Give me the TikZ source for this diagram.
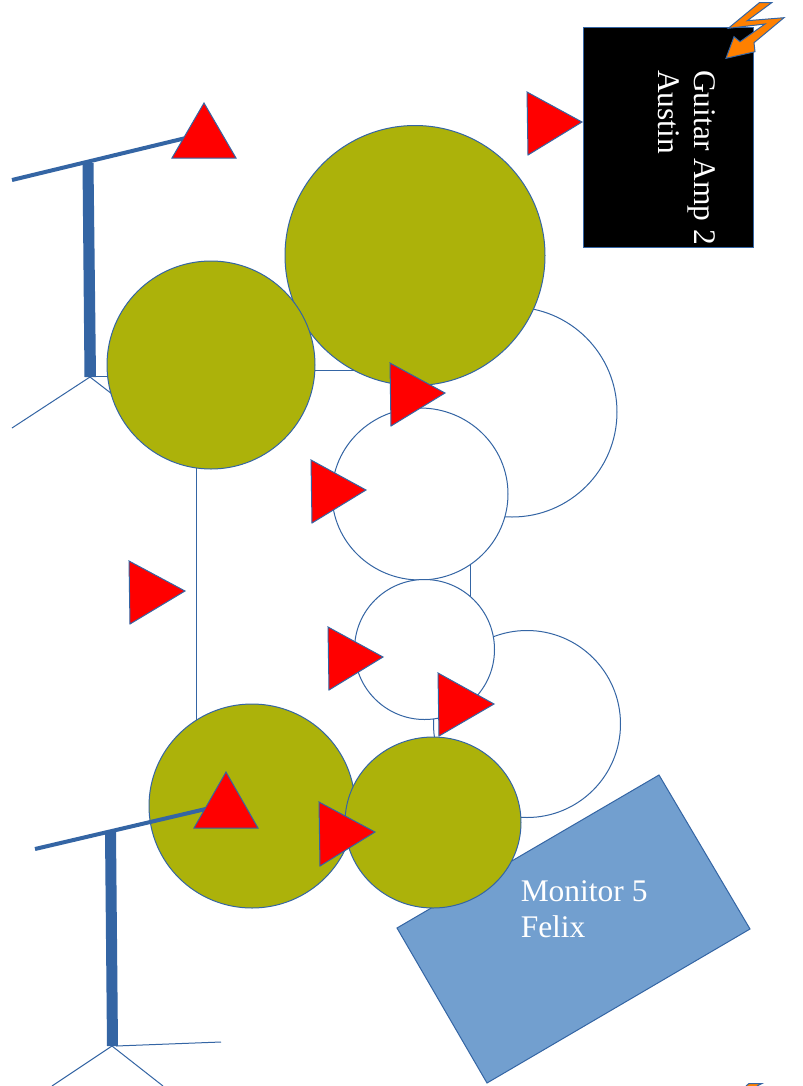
\documentclass[tikz,border=0pt]{standalone}
\usepackage{fontspec}
\setmainfont{Liberation Serif}
\definecolor{lineblue}{RGB}{52,101,164}
\definecolor{olive}{RGB}{172,178,10}
\definecolor{monblue}{RGB}{114,159,207}
\definecolor{boltorange}{RGB}{255,128,0}
\tikzset{
  shape line/.style={draw=lineblue,line width=0.75pt},
  thin line/.style={draw=lineblue,line width=0.75pt},
  oliveone/.style={shape line,fill=olive},
  whiteone/.style={shape line,fill=white},
  redtri/.style={shape line,fill=red,line join=miter},
  boom/.style={draw=lineblue,line width=3pt},
  pole/.style={fill=lineblue,draw=none},
  bigtext/.style={text=white,font=\fontsize{23.6}{27.4}\selectfont,align=left,inner sep=0pt},
}
\begin{document}
\begin{tikzpicture}[x=0.75pt,y=-0.75pt]
\useasboundingbox (0,0) rectangle (803,1086);
\fill[white] (0,0) rectangle (803,1086);
% white back circles and connectors
\coordinate (a1) at (196,468); \coordinate (a2) at (196,720);
\draw[thin line] (a1) -- (a2);
\coordinate (b1) at (314,370); \coordinate (b2) at (362,370);
\draw[thin line] (b1) -- (b2);
\coordinate (c1) at (470,560); \coordinate (c2) at (470,600);
\draw[thin line] (c1) -- (c2);
\coordinate (d1) at (434,716); \coordinate (d2) at (434,740);
\draw[thin line] (d1) -- (d2);
\draw[whiteone] (512,412) circle (105);
\draw[whiteone] (527,724) circle (93.5);
\draw[whiteone] (420,494) ellipse (88 and 86);
\draw[whiteone] (424.5,649.5) circle (70);
% stand 1
\coordinate (s1) at (90,377);
\draw[thin line] (s1) -- (12,428);
\draw[thin line] (s1) -- (112,394);
\draw[thin line] (94,376) -- (110,376);
\fill[pole] (82.5,163) -- (93.5,163) -- (96,377) -- (84.5,377) -- cycle;
\draw[boom] (12,180) -- (190,137);
% stand 2 legs
\coordinate (s2) at (112,1046);
\draw[thin line] (s2) -- (52,1086);
\draw[thin line] (s2) -- (163,1086);
\draw[thin line] (116,1046) -- (221,1042);
% monitor
\draw[shape line,fill=monblue] (659,775) -- (750,929) -- (487,1083) -- (397,928) -- cycle;
% olive circles
\draw[oliveone] (415,255.5) circle (130);
\draw[oliveone] (211,365) circle (104);
\draw[oliveone] (252,806) ellipse (103 and 102);
\draw[oliveone] (433,822.5) ellipse (88 and 85.5);
\fill[pole] (105,832) -- (116,832) -- (118,1046) -- (107,1046) -- cycle;
\draw[boom] (35,849) -- (210,808);
% amp
\draw[shape line,fill=black] (583,27) rectangle (753,247);
\node[bigtext,rotate=-90,anchor=north west] (amptext) at (716,70) {Guitar Amp 2\\Austin};
\node[bigtext,anchor=north west] (montext) at (520.5,880) {Monitor 5\\Felix};
% bolt
\draw[shape line,fill=boltorange,line join=miter] (759.3,2.7) -- (771.7,2.7) -- (747.3,20.7) -- (784,17.7) -- (754,42.7) -- (755,51.7) -- (726,58.3) -- (734,36.7) -- (740,41.7) -- (765,24) -- (728.3,28.3) -- cycle;
\draw[shape line,fill=boltorange] (746,1086) -- (749,1083.5) -- (762,1083.5) -- (757,1086);
% triangles
\draw[redtri] (204,103) -- (236,158) -- (172,158) -- cycle;
\draw[redtri] (226,772) -- (258,828) -- (194,828) -- cycle;
\draw[redtri] (527,92) -- (582,122) -- (528,155) -- cycle;
\draw[redtri] (390,363) -- (445,393) -- (391,426) -- cycle;
\draw[redtri] (311,460) -- (366,490) -- (312,523) -- cycle;
\draw[redtri] (129,561) -- (185,591) -- (130,624) -- cycle;
\draw[redtri] (328,627) -- (383,657) -- (329,690) -- cycle;
\draw[redtri] (438,673) -- (494,704) -- (439,736) -- cycle;
\draw[redtri] (319,802) -- (375,832) -- (320,866) -- cycle;
\end{tikzpicture}
\end{document}
